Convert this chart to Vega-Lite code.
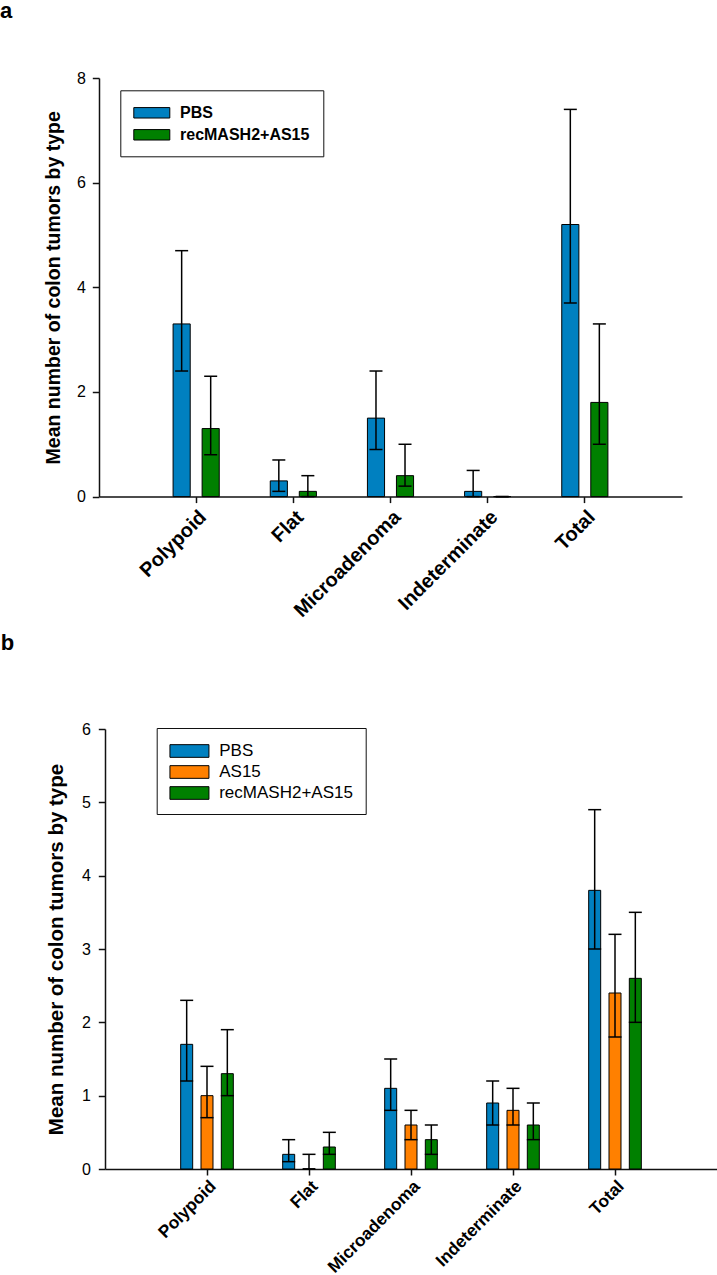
{
  "$schema": "https://vega.github.io/schema/vega-lite/v6.json",
  "padding": {"left": 0, "top": 0, "right": 0, "bottom": 0},
  "autosize": {"type": "pad"},
  "spacing": 11,
  "config": {
    "font": "Liberation Sans",
    "view": {"stroke": null},
    "axis": {"domainColor": "#111", "domainWidth": 1.5, "tickColor": "#111", "tickWidth": 1.5, "labelColor": "#000", "titleColor": "#000", "grid": false, "labelFont": "Liberation Sans", "titleFont": "Liberation Sans"},
    "title": {"font": "Liberation Sans", "color": "#000"},
    "legend": {"labelFont": "Liberation Sans", "labelColor": "#000"}
  },
  "datasets": {
    "a": [
      {"type": "Polypoid", "group": "PBS", "mean": 3.3, "lo": 2.4, "hi": 4.7},
      {"type": "Polypoid", "group": "recMASH2+AS15", "mean": 1.3, "lo": 0.8, "hi": 2.3},
      {"type": "Flat", "group": "PBS", "mean": 0.3, "lo": 0.1, "hi": 0.7},
      {"type": "Flat", "group": "recMASH2+AS15", "mean": 0.1, "lo": 0, "hi": 0.4},
      {"type": "Microadenoma", "group": "PBS", "mean": 1.5, "lo": 0.9, "hi": 2.4},
      {"type": "Microadenoma", "group": "recMASH2+AS15", "mean": 0.4, "lo": 0.2, "hi": 1.0},
      {"type": "Indeterminate", "group": "PBS", "mean": 0.1, "lo": 0, "hi": 0.5},
      {"type": "Indeterminate", "group": "recMASH2+AS15", "mean": 0, "lo": 0, "hi": 0},
      {"type": "Total", "group": "PBS", "mean": 5.2, "lo": 3.7, "hi": 7.4},
      {"type": "Total", "group": "recMASH2+AS15", "mean": 1.8, "lo": 1.0, "hi": 3.3}
    ],
    "b": [
      {"type": "Polypoid", "group": "PBS", "mean": 1.7, "lo": 1.2, "hi": 2.3},
      {"type": "Polypoid", "group": "AS15", "mean": 1.0, "lo": 0.7, "hi": 1.4},
      {"type": "Polypoid", "group": "recMASH2+AS15", "mean": 1.3, "lo": 1.0, "hi": 1.9},
      {"type": "Flat", "group": "PBS", "mean": 0.2, "lo": 0.1, "hi": 0.4},
      {"type": "Flat", "group": "AS15", "mean": 0, "lo": 0, "hi": 0.2},
      {"type": "Flat", "group": "recMASH2+AS15", "mean": 0.3, "lo": 0.2, "hi": 0.5},
      {"type": "Microadenoma", "group": "PBS", "mean": 1.1, "lo": 0.8, "hi": 1.5},
      {"type": "Microadenoma", "group": "AS15", "mean": 0.6, "lo": 0.4, "hi": 0.8},
      {"type": "Microadenoma", "group": "recMASH2+AS15", "mean": 0.4, "lo": 0.2, "hi": 0.6},
      {"type": "Indeterminate", "group": "PBS", "mean": 0.9, "lo": 0.6, "hi": 1.2},
      {"type": "Indeterminate", "group": "AS15", "mean": 0.8, "lo": 0.6, "hi": 1.1},
      {"type": "Indeterminate", "group": "recMASH2+AS15", "mean": 0.6, "lo": 0.4, "hi": 0.9},
      {"type": "Total", "group": "PBS", "mean": 3.8, "lo": 3.0, "hi": 4.9},
      {"type": "Total", "group": "AS15", "mean": 2.4, "lo": 1.8, "hi": 3.2},
      {"type": "Total", "group": "recMASH2+AS15", "mean": 2.6, "lo": 2.0, "hi": 3.5}
    ]
  },
  "resolve": {"scale": {"x": "independent", "y": "independent", "fill": "independent", "xOffset": "independent"}, "legend": {"fill": "independent"}, "axis": {"x": "independent", "y": "independent"}},
  "vconcat": [
    {
      "title": {"text": "a", "anchor": "start", "frame": "group", "dx": -99, "fontSize": 22, "fontWeight": "bold", "offset": 47},
      "width": 583,
      "height": 418.6,
      "data": {"name": "a"},
      "encoding": {
        "x": {"field": "type", "type": "nominal", "sort": ["Polypoid", "Flat", "Microadenoma", "Indeterminate", "Total"], "scale": {"paddingInner": 0.525, "paddingOuter": 0.7625}, "axis": {"title": null, "labelAngle": -45, "labelFontSize": 20, "labelFontWeight": "bold", "tickSize": 6, "labelPadding": 4}},
        "xOffset": {"field": "group", "type": "nominal", "sort": ["PBS", "recMASH2+AS15"], "scale": {"paddingInner": 0.41, "paddingOuter": 0}}
      },
      "layer": [
        {
          "mark": {"type": "bar", "stroke": "#000", "strokeWidth": 1},
          "encoding": {
            "y": {"field": "mean", "type": "quantitative", "title": "Mean number of colon tumors by type", "scale": {"domain": [0, 8], "nice": false}, "axis": {"values": [0, 2, 4, 6, 8], "format": "d", "titleFontSize": 19.5, "titleFontWeight": "bold", "labelFontSize": 16, "tickSize": 6.7, "labelPadding": 7, "titlePadding": 13}},
            "fill": {"field": "group", "type": "nominal", "sort": ["PBS", "recMASH2+AS15"], "scale": {"domain": ["PBS", "recMASH2+AS15"], "range": ["#0080c0", "#008000"]}, "legend": {"title": null, "orient": "none", "legendX": 21.3, "legendY": 12.3, "symbolType": "M-1,-0.58H3V0.58H-1Z", "symbolSize": 324, "symbolStrokeColor": "#000", "symbolStrokeWidth": 1, "labelFontSize": 16, "labelFontWeight": "bold", "labelOffset": 27.7, "rowPadding": 4, "padding": 13, "strokeColor": "#111"}}
          }
        },
        {
          "mark": {"type": "rule", "color": "#000", "strokeWidth": 1.5},
          "encoding": {"y": {"field": "lo", "type": "quantitative", "title": "Mean number of colon tumors by type"}, "y2": {"field": "hi"}}
        },
        {
          "mark": {"type": "tick", "color": "#000", "size": 13, "thickness": 1.5, "opacity": 1},
          "encoding": {"y": {"field": "lo", "type": "quantitative", "title": "Mean number of colon tumors by type"}}
        },
        {
          "mark": {"type": "tick", "color": "#000", "size": 13, "thickness": 1.5, "opacity": 1},
          "encoding": {"y": {"field": "hi", "type": "quantitative", "title": "Mean number of colon tumors by type"}}
        }
      ]
    },
    {
      "title": {"text": "b", "anchor": "start", "frame": "group", "dx": -98.3, "fontSize": 22, "fontWeight": "bold", "offset": 65.6},
      "width": 618,
      "height": 440,
      "data": {"name": "b"},
      "encoding": {
        "x": {"field": "type", "type": "nominal", "sort": ["Polypoid", "Flat", "Microadenoma", "Indeterminate", "Total"], "scale": {"paddingInner": 0.484, "paddingOuter": 0.742, "range": [6, 618]}, "axis": {"title": null, "labelAngle": -45, "labelFontSize": 17.3, "labelFontWeight": "bold", "tickSize": 6, "labelPadding": 2}},
        "xOffset": {"field": "group", "type": "nominal", "sort": ["PBS", "AS15", "recMASH2+AS15"], "scale": {"paddingInner": 0.41, "paddingOuter": 0}}
      },
      "layer": [
        {
          "mark": {"type": "bar", "stroke": "#000", "strokeWidth": 1},
          "encoding": {
            "y": {"field": "mean", "type": "quantitative", "title": "Mean number of colon tumors by type", "scale": {"domain": [0, 6], "nice": false}, "axis": {"values": [0, 1, 2, 3, 4, 5, 6], "format": "d", "offset": -6, "titleFontSize": 20.5, "titleFontWeight": "bold", "labelFontSize": 16, "tickSize": 6.7, "labelPadding": 8, "titlePadding": 15}},
            "fill": {"field": "group", "type": "nominal", "sort": ["PBS", "AS15", "recMASH2+AS15"], "scale": {"domain": ["PBS", "AS15", "recMASH2+AS15"], "range": ["#0080c0", "#ff8000", "#008000"]}, "legend": {"title": null, "orient": "none", "legendX": 57.7, "legendY": -1, "symbolType": "M-1,-0.65H3V0.65H-1Z", "symbolSize": 380.25, "symbolStrokeColor": "#000", "symbolStrokeWidth": 1, "labelFontSize": 17, "labelFontWeight": "normal", "labelOffset": 29, "rowPadding": 2, "padding": 12.5, "strokeColor": "#111"}}
          }
        },
        {
          "mark": {"type": "rule", "color": "#000", "strokeWidth": 1.5},
          "encoding": {"y": {"field": "lo", "type": "quantitative", "title": "Mean number of colon tumors by type"}, "y2": {"field": "hi"}}
        },
        {
          "mark": {"type": "tick", "color": "#000", "size": 13, "thickness": 1.5, "opacity": 1},
          "encoding": {"y": {"field": "lo", "type": "quantitative", "title": "Mean number of colon tumors by type"}}
        },
        {
          "mark": {"type": "tick", "color": "#000", "size": 13, "thickness": 1.5, "opacity": 1},
          "encoding": {"y": {"field": "hi", "type": "quantitative", "title": "Mean number of colon tumors by type"}}
        }
      ]
    }
  ]
}
